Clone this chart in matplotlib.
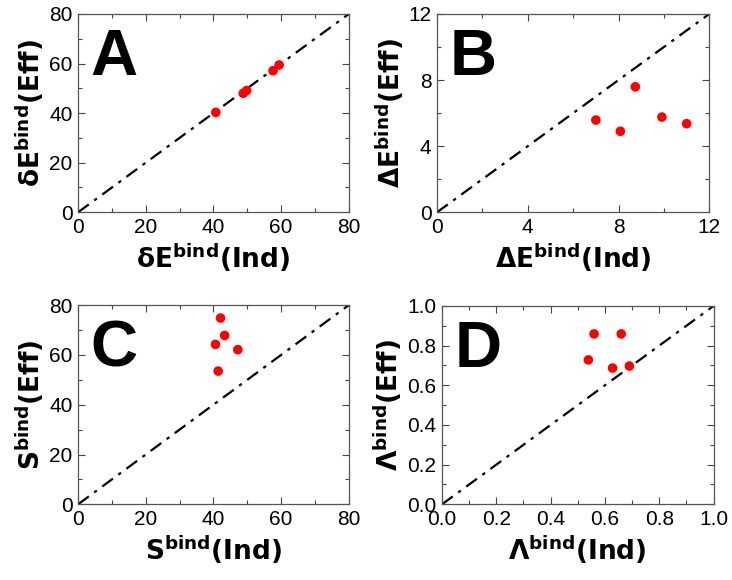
import matplotlib
matplotlib.use("Agg")
import matplotlib.pyplot as plt
from matplotlib.ticker import MultipleLocator, FormatStrFormatter

plt.rcParams['font.family'] = ['Liberation Sans', 'DejaVu Sans']
plt.rcParams['mathtext.fontset'] = 'dejavusans'

# Panel A: deltaE bind
a_ind = [40.7, 48.8, 49.8, 57.6, 59.4]
a_eff = [40.3, 48.0, 49.1, 57.1, 59.4]
# Panel B: DeltaE bind
b_ind = [7.0, 8.08, 8.74, 9.91, 11.0]
b_eff = [5.58, 4.9, 7.59, 5.76, 5.36]
# Panel C: S bind
c_ind = [42.1, 43.3, 40.6, 47.2, 41.4]
c_eff = [74.8, 67.8, 64.2, 62.1, 53.5]
# Panel D: Lambda bind
d_ind = [0.56, 0.66, 0.539, 0.628, 0.69]
d_eff = [0.859, 0.859, 0.728, 0.687, 0.697]

panels = [
    dict(pos=[0.1066, 0.634, 0.370, 0.342], x=a_ind, y=a_eff, lim=80, major=20, minor=10, fmt='%d',
         sym='δE', letter='A'),
    dict(pos=[0.597, 0.634, 0.372, 0.342], x=b_ind, y=b_eff, lim=12, major=4, minor=2, fmt='%d',
         sym='ΔE', letter='B'),
    dict(pos=[0.1066, 0.1305, 0.370, 0.3435], x=c_ind, y=c_eff, lim=80, major=20, minor=10, fmt='%d',
         sym='S', letter='C'),
    dict(pos=[0.6038, 0.1305, 0.371, 0.342], x=d_ind, y=d_eff, lim=1.0, major=0.2, minor=0.1, fmt='%.1f',
         sym='Λ', letter='D'),
]

lab_font = dict(family='DejaVu Sans', fontsize=19, fontweight='bold')

fig = plt.figure(figsize=(7.32, 5.80), dpi=100)
for p in panels:
    ax = fig.add_axes(p['pos'])
    lim = p['lim']
    ax.plot([0, lim], [0, lim], color='black', linestyle=(0, (6, 3, 1.5, 3)), linewidth=1.6, zorder=2)
    ax.scatter(p['x'], p['y'], s=48, color='#ff0000', edgecolors='none', zorder=3)
    ax.set_xlim(0, lim)
    ax.set_ylim(0, lim)
    for a in (ax.xaxis, ax.yaxis):
        a.set_major_locator(MultipleLocator(p['major']))
        a.set_minor_locator(MultipleLocator(p['minor']))
        a.set_major_formatter(FormatStrFormatter(p['fmt']))
    ax.tick_params(which='both', direction='in', top=True, right=True, labelsize=15,
                   color='#444444', pad=4)
    ax.tick_params(which='major', length=5, width=0.8)
    ax.tick_params(which='minor', length=3, width=0.8)
    for s in ax.spines.values():
        s.set_color('#555555')
        s.set_linewidth(0.9)
    ax.set_xlabel(p['sym'] + r'$^{\mathbf{bind}}$(Ind)', labelpad=3, **lab_font)
    ax.set_ylabel(p['sym'] + r'$^{\mathbf{bind}}$(Eff)', labelpad=2, **lab_font)
    ax.text(0.045, 0.93, p['letter'], transform=ax.transAxes, fontsize=47, fontweight='bold',
            family='Liberation Sans', ha='left', va='top')

fig.savefig('out.png', dpi=100)
